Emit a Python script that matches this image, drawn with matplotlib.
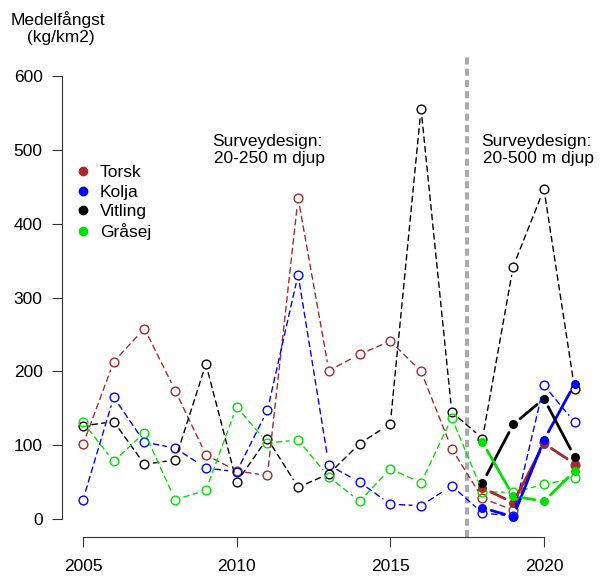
import matplotlib.pyplot as plt
from matplotlib.lines import Line2D

plt.rcParams['font.family'] = ['Liberation Sans', 'DejaVu Sans']
plt.rcParams['font.size'] = 12.5

years = list(range(2005, 2022))
new_years = [2018, 2019, 2020, 2021]

# gammal surveydesign (ringar, streckad linje)
torsk_old = [101, 213, 258, 174, 87, 65, 59, 435, 201, 223, 241, 200, 95, 28, 12, 104, 73]
kolja_old = [26, 165, 104, 96, 69, 64, 147, 331, 73, 50, 20, 18, 45, 8, 4, 181, 131]
vitling_old = [126, 132, 74, 80, 210, 50, 109, 43, 61, 102, 129, 556, 145, 109, 342, 447, 176]
grasej_old = [131, 78, 117, 26, 39, 152, 103, 107, 57, 24, 68, 49, 137, 37, 36, 47, 55]

# ny surveydesign (fyllda punkter, heldragen linje)
torsk_new = [42, 22, 102, 75]
kolja_new = [15, 3, 107, 183]
vitling_new = [49, 128, 163, 84]
grasej_new = [104, 31, 24, 65]

arter = ['Torsk', 'Kolja', 'Vitling', 'Gråsej']
farger = ['#A52A2A', '#0000FF', '#000000', '#00E000']
gamla = [torsk_old, kolja_old, vitling_old, grasej_old]
nya = [torsk_new, kolja_new, vitling_new, grasej_new]


def linje(ax, x, y, color, lw, ls):
    # som type="b" i R: linjen slutar en bit före punkterna
    for i in range(len(x) - 1):
        ax.annotate('', xy=(x[i + 1], y[i + 1]), xytext=(x[i], y[i]),
                    arrowprops=dict(arrowstyle='-', color=color, lw=lw, linestyle=ls,
                                    shrinkA=6.5, shrinkB=6.5))


fig = plt.figure(figsize=(6, 5.78), dpi=100)
ax = fig.add_axes([62 / 600, 1 - 537 / 578, 528 / 600, 497 / 578])
ax.set_xlim(2005 - 21 / 30.73, 2005 + 507 / 30.73)
ax.set_ylim(-18 / 0.7375, (518.5 - 40) / 0.7375)

# skiljelinje mellan designerna
ax.plot([2017.5, 2017.5], [ax.get_ylim()[0], 627], color='#AAAAAA', lw=3,
        dashes=(1.7, 1.0))

for y, c in zip(gamla, farger):
    linje(ax, years, y, c, 1.0, (0, (4, 3)))
    ax.plot(years, y, ls='none', marker='o', ms=6.3, mfc='none', mec=c, mew=1.0)

for y, c in zip(nya, farger):
    linje(ax, new_years, y, c, 2.0, '-')
    ax.plot(new_years, y, ls='none', marker='o', ms=5.5, color=c)

for s in ['top', 'right']:
    ax.spines[s].set_visible(False)
ax.spines['left'].set_bounds(0, 600)
ax.spines['bottom'].set_bounds(2005, 2020)
ax.spines['left'].set_color('#333333')
ax.spines['bottom'].set_color('#333333')
ax.set_yticks([0, 100, 200, 300, 400, 500, 600])
ax.set_xticks([2005, 2010, 2015, 2020])
ax.tick_params(axis='y', length=7, pad=7, color='#333333')
ax.tick_params(axis='x', length=7, pad=9, color='#333333')

ax.text(2011, 500, 'Surveydesign:\n 20-250 m djup', ha='center', va='center',
        multialignment='center', linespacing=1.2)
ax.text(2019.75, 500, 'Surveydesign:\n 20-500 m djup', ha='center', va='center',
        multialignment='center', linespacing=1.2)

fig.text(58 / 600, 1 - 28 / 578, 'Medelfångst\n (kg/km2)', ha='center', va='center',
         multialignment='center', linespacing=1.2)

handles = [Line2D([], [], ls='none', marker='o', ms=6, color=c) for c in farger]
ax.legend(handles, arter, loc='upper left', frameon=False, handlelength=1.0,
          handletextpad=0.45, borderpad=0, borderaxespad=0, labelspacing=0.25,
          bbox_to_anchor=(74.7 / 600, 1 - 165 / 578), bbox_transform=fig.transFigure)

plt.savefig('out.png', dpi=100)
